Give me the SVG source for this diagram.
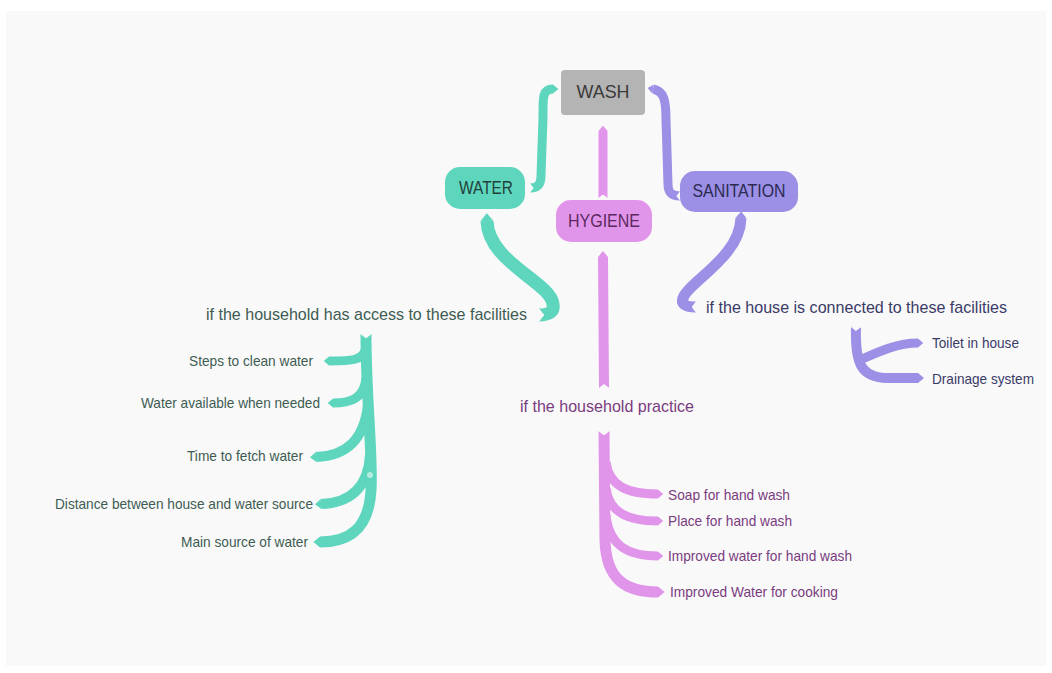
<svg xmlns="http://www.w3.org/2000/svg" width="1052" height="673" viewBox="0 0 1052 673">
<style>
text{font-family:"Liberation Sans",Arial,sans-serif}
.node{font-size:18px;text-anchor:middle;dominant-baseline:central}
.lbl{font-size:17px}
.sub{font-size:14.5px}
.t{fill:none;stroke:#5ed6bd;stroke-linecap:butt}
.p{fill:none;stroke:#e195ea;stroke-linecap:butt}
.v{fill:none;stroke:#9b8fe6;stroke-linecap:butt}
.tt{fill:#3e5c53}.pt{fill:#7a3c80}.vt{fill:#3b3b68}
</style>
<defs>
<marker id="tipT" viewBox="0 -5 6 10" markerWidth="0.6" markerHeight="1" refX="0" refY="0" orient="auto-start-reverse"><path d="M0,-5 L6,0 L0,5Z" fill="#5ed6bd"/></marker>
<marker id="tipP" viewBox="0 -5 6 10" markerWidth="0.6" markerHeight="1" refX="0" refY="0" orient="auto-start-reverse"><path d="M0,-5 L6,0 L0,5Z" fill="#e195ea"/></marker>
<marker id="tipV" viewBox="0 -5 6 10" markerWidth="0.6" markerHeight="1" refX="0" refY="0" orient="auto-start-reverse"><path d="M0,-5 L6,0 L0,5Z" fill="#9b8fe6"/></marker>
<marker id="notch" viewBox="-4 -6 4.6 12" markerWidth="0.46" markerHeight="1.2" refX="0" refY="0" orient="auto-start-reverse"><path d="M0.6,-6 L-4,0 L0.6,6Z" fill="#f9f9f9"/></marker>
</defs>
<rect x="0" y="0" width="1052" height="673" fill="#ffffff"/>
<rect x="6" y="11" width="1040" height="655" fill="#f9f9f9"/>

<g id="connectors">
<path class="t" stroke-width="9" d="M553 89 C542 89 543 98 543 118 L541 176 C541 185 537 188 530 188" marker-start="url(#tipT)" marker-end="url(#notch)"/>
<path class="v" stroke-width="9" d="M653 89 C664 91 666 100 666 120 L668 184 C668 193 672 196 680 196" marker-start="url(#tipV)" marker-end="url(#notch)"/>
<path class="p" stroke-width="9" d="M603 131 L603 198" marker-start="url(#tipP)" marker-end="url(#notch)"/>
<path class="t" stroke-width="13" d="M487 221 C488 262 550 282 553 304 Q555 315 539 315" marker-start="url(#tipT)" marker-end="url(#notch)"/>
<path class="v" stroke-width="11" d="M741 218 C740 256 692 280 684 296 Q678 307 696 307" marker-start="url(#tipV)" marker-end="url(#notch)"/>
<path class="p" stroke-width="10" d="M603 257 L604 388" marker-start="url(#tipP)" marker-end="url(#notch)"/>

<path class="t" stroke-width="11" d="M366 334 C366 400 373 455 371 490 C369 528 350 542 320 542" marker-start="url(#notch)" marker-end="url(#tipT)"/>
<path class="t" stroke-width="9" d="M365 350 C363 360 352 361 329 361" marker-end="url(#tipT)"/>
<path class="t" stroke-width="9" d="M366 378 C364 398 352 403 333 403" marker-end="url(#tipT)"/>
<path class="t" stroke-width="10" d="M368 405 C364 440 346 456 316 457" marker-end="url(#tipT)"/>
<path class="t" stroke-width="10" d="M370 455 C368 490 348 503 321 504" marker-end="url(#tipT)"/>
<circle cx="370" cy="475" r="3" fill="#b5ece0"/>

<path class="p" stroke-width="11" d="M604 431 L605 540 C606 580 626 592 658 592" marker-start="url(#notch)" marker-end="url(#tipP)"/>
<path class="p" stroke-width="9" d="M606 462 C609 486 627 494 658 494" marker-end="url(#tipP)"/>
<path class="p" stroke-width="9" d="M606 488 C609 512 627 521 658 521" marker-end="url(#tipP)"/>
<path class="p" stroke-width="9" d="M606 515 C609 545 627 556 658 556" marker-end="url(#tipP)"/>

<path class="v" stroke-width="10" d="M856 327 C855 362 860 378 888 378 L918 378" marker-start="url(#notch)" marker-end="url(#tipV)"/>
<path class="v" stroke-width="9" d="M860 360 C880 351 898 343 918 343" marker-end="url(#tipV)"/>
</g>

<g id="node-wash"><rect x="561" y="70" width="84" height="45" rx="4" fill="#b4b4b4"/><text class="node" x="603" y="92" fill="#3a3a3a" textLength="53" lengthAdjust="spacingAndGlyphs">WASH</text></g>
<g id="node-water"><rect x="445" y="167" width="80" height="42" rx="15" fill="#5ed6bd"/><text class="node" x="486" y="188" fill="#23413b" textLength="54" lengthAdjust="spacingAndGlyphs">WATER</text></g>
<g id="node-hygiene"><rect x="556" y="200" width="96" height="42" rx="15" fill="#e195ea"/><text class="node" x="604" y="221" fill="#5b2a5e" textLength="72" lengthAdjust="spacingAndGlyphs">HYGIENE</text></g>
<g id="node-sanitation"><rect x="680" y="171" width="118" height="41" rx="15" fill="#9b8fe6"/><text class="node" x="739" y="191" fill="#2b2a52" textLength="93" lengthAdjust="spacingAndGlyphs">SANITATION</text></g>

<g id="node-facilities"><text class="lbl tt" x="527" y="320" text-anchor="end" textLength="321" lengthAdjust="spacingAndGlyphs">if the household has access to these facilities</text></g>
<g id="node-steps"><text class="sub tt" x="313" y="366" text-anchor="end" textLength="124" lengthAdjust="spacingAndGlyphs">Steps to clean water</text></g>
<g id="node-available"><text class="sub tt" x="320" y="408" text-anchor="end" textLength="179" lengthAdjust="spacingAndGlyphs">Water available when needed</text></g>
<g id="node-time"><text class="sub tt" x="303" y="461" text-anchor="end" textLength="116" lengthAdjust="spacingAndGlyphs">Time to fetch water</text></g>
<g id="node-distance"><text class="sub tt" x="313" y="509" text-anchor="end" textLength="258" lengthAdjust="spacingAndGlyphs">Distance between house and water source</text></g>
<g id="node-main"><text class="sub tt" x="308" y="547" text-anchor="end" textLength="127" lengthAdjust="spacingAndGlyphs">Main source of water</text></g>

<g id="node-practice"><text class="lbl pt" x="520" y="412" textLength="174" lengthAdjust="spacingAndGlyphs">if the household practice</text></g>
<g id="node-soap"><text class="sub pt" x="668" y="500" textLength="122" lengthAdjust="spacingAndGlyphs">Soap for hand wash</text></g>
<g id="node-place"><text class="sub pt" x="668" y="526" textLength="124" lengthAdjust="spacingAndGlyphs">Place for hand wash</text></g>
<g id="node-improved-hand"><text class="sub pt" x="668" y="561" textLength="184" lengthAdjust="spacingAndGlyphs">Improved water for hand wash</text></g>
<g id="node-improved-cook"><text class="sub pt" x="670" y="597" textLength="168" lengthAdjust="spacingAndGlyphs">Improved Water for cooking</text></g>

<g id="node-connected"><text class="lbl vt" x="706" y="313" textLength="301" lengthAdjust="spacingAndGlyphs">if the house is connected to these facilities</text></g>
<g id="node-toilet"><text class="sub vt" x="932" y="348" textLength="87" lengthAdjust="spacingAndGlyphs">Toilet in house</text></g>
<g id="node-drainage"><text class="sub vt" x="932" y="384" textLength="102" lengthAdjust="spacingAndGlyphs">Drainage system</text></g>
</svg>
